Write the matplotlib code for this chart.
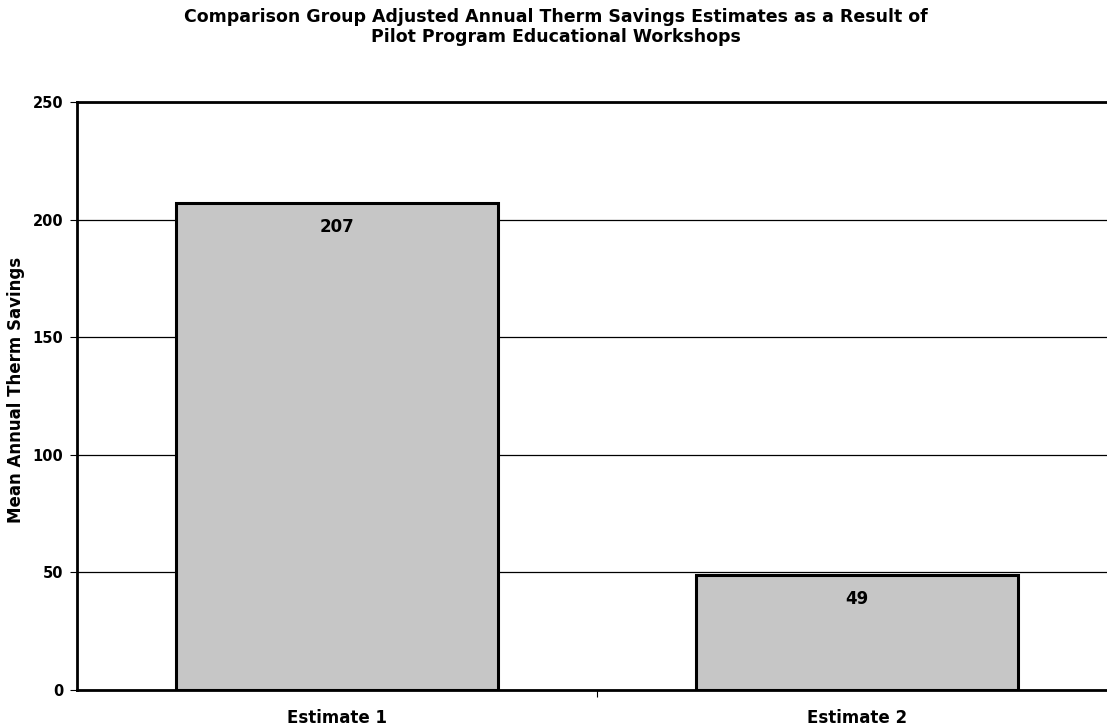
import matplotlib
matplotlib.use('Agg')
import matplotlib.pyplot as plt

plt.rcParams['font.family'] = ['DejaVu Sans']
plt.rcParams['font.weight'] = 'bold'

categories = ['Estimate 1', 'Estimate 2']
savings = [207, 49]
yticks = [0, 50, 100, 150, 200, 250]

title = ('Comparison Group Adjusted Annual Therm Savings Estimates as a Result of\n'
         'Pilot Program Educational Workshops')

fig = plt.figure(figsize=(11.07, 7.28), dpi=100)
ax = fig.add_axes([0.0696, 0.0522, 0.9395, 0.8077])

x = list(range(len(categories)))
bars = ax.bar(x, savings, width=0.62, color='#c6c6c6', edgecolor='black',
              linewidth=2.2, zorder=3)

# value labels sit just inside the top of each bar
for rect, val in zip(bars, savings):
    ax.annotate(str(val), (rect.get_x() + rect.get_width() / 2, val),
                xytext=(0, -24), textcoords='offset pixels',
                ha='center', va='center', fontsize=12, fontweight='bold', zorder=4)

ax.set_xlim(-0.5, 1.5)
ax.set_ylim(0, 250)
ax.set_yticks(yticks)
ax.set_yticklabels([str(t) for t in yticks], fontsize=10.5, fontweight='bold')
ax.yaxis.grid(True, color='black', linewidth=0.9, zorder=1)
ax.set_axisbelow(True)

# category boundary tick on the x axis, labels centred under the bars
ax.set_xticks([0.5])
ax.set_xticklabels([''])
ax.tick_params(axis='x', length=5, width=0.8, direction='out')
ax.tick_params(axis='y', length=5, width=0.8, direction='out', pad=5)
for xi, name in zip(x, categories):
    ax.text(xi, -0.047, name, transform=ax.get_xaxis_transform(),
            ha='center', va='center', fontsize=12, fontweight='bold')

for side in ['left', 'bottom', 'top']:
    ax.spines[side].set_linewidth(2)
ax.spines['right'].set_visible(False)

ax.set_ylabel('Mean Annual Therm Savings', fontsize=12, fontweight='bold')
ax.yaxis.set_label_coords(-0.05, 0.51)

fig.text(0.502, 1 - 8 / 728, title, ha='center', va='top', fontsize=12.5,
         fontweight='bold', linespacing=1.15)

fig.savefig('out.png', dpi=100)
